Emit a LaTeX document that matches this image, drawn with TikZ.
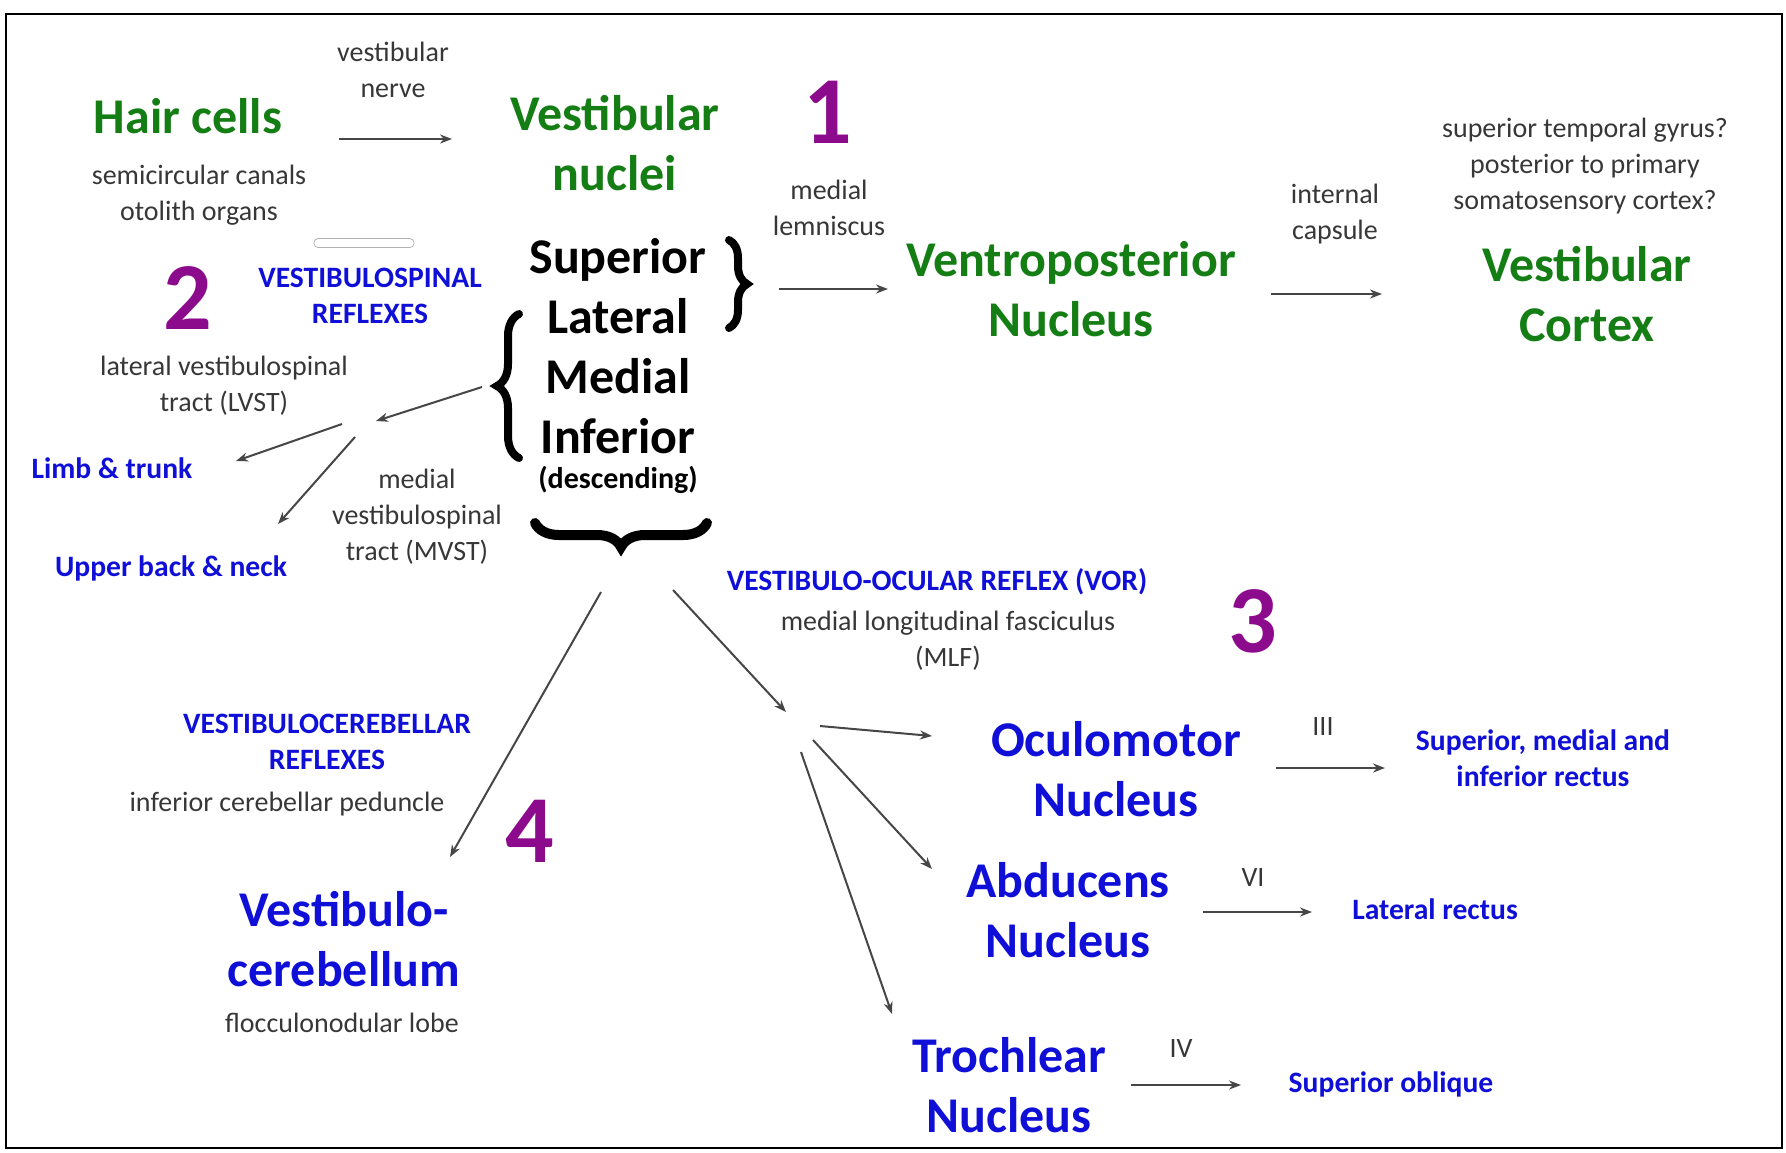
\documentclass[tikz,border=0pt]{standalone}
\usepackage{fontspec}
\setmainfont{Carlito}
\usepackage{xcolor}
\usetikzlibrary{arrows.meta,decorations.pathreplacing}
\definecolor{nucgreen}{RGB}{20,125,20}
\definecolor{reflexblue}{RGB}{15,15,215}
\definecolor{stagepurple}{RGB}{140,10,140}
\definecolor{notegray}{RGB}{55,55,55}
\definecolor{tractgray}{RGB}{70,70,70}

\begin{document}
\begin{tikzpicture}[x=0.5pt, y=-0.5pt,
  nucleus/.style={font=\fontsize{25}{30}\selectfont\bfseries, align=center, inner sep=0pt},
  green nuc/.style={nucleus, text=nucgreen},
  blue nuc/.style={nucleus, text=reflexblue},
  note/.style={font=\fontsize{14}{18}\selectfont, text=notegray, align=center, inner sep=0pt},
  reflex/.style={font=\fontsize{14.8}{18}\selectfont\bfseries, text=reflexblue, align=center, inner sep=0pt},
  stage/.style={font=\fontsize{48}{48}\selectfont\bfseries, text=stagepurple, inner sep=0pt},
  tract/.style={draw=tractgray, line width=1pt, -{Stealth[length=6pt,width=4.5pt]}},
  bracket/.style={decorate, decoration={brace, amplitude=#1}, line width=4pt, line cap=round}]
\useasboundingbox (0,0) rectangle (1786,1152);
\draw[line width=1pt] (6,14) rectangle (1782,1148);

\node[green nuc] (hair) at (188,116) {Hair cells};
\node[note] (hairsrc) at (199,195) {semicircular canals\\otolith organs};
\node[note] (nerve) at (393,70) {vestibular\\nerve};
\node[green nuc] (vn) at (615,143) {Vestibular\\nuclei};
\node[stage] (one) at (828,112) {1};
\node[note] (lemn) at (829,208) {medial\\lemniscus};
\node[green nuc] (vp) at (1071,289) {Ventroposterior\\Nucleus};
\node[note] (caps) at (1335,214) {internal\\capsule};
\node[note] (gyrus) at (1585,166) {superior temporal gyrus?\\posterior to primary\\somatosensory cortex?};
\node[green nuc] (cortex) at (1587,294) {Vestibular\\Cortex};

\node[draw=gray!60, rounded corners=2pt, minimum width=50pt, minimum height=4.5pt, inner sep=0pt] (blank) at (364,243) {};
\node[stage] (two) at (188,298) {2};
\node[reflex] (vsr) at (370,296) {VESTIBULOSPINAL\\REFLEXES};
\node[nucleus] (subs) at (618,346) {Superior\\Lateral\\Medial\\Inferior};
\node[font=\fontsize{15}{18}\selectfont\bfseries, inner sep=0pt] (desc) at (618,480) {(descending)};
\draw[bracket=9pt] (729,240) -- (729,328);
\draw[bracket=11pt] (519,458) -- (519,314);
\draw[bracket=12pt, line width=5pt] (707,523) -- (535,523);

\node[note] (lvst) at (224,386) {lateral vestibulospinal\\tract (LVST)};
\node[reflex] (limb) at (112,468) {Limb \& trunk};
\node[reflex] (neck) at (171,568) {Upper back \& neck};
\node[note] (mvst) at (417,517) {medial\\vestibulospinal\\tract (MVST)};

\node[reflex] (vor) at (937,582) {VESTIBULO-OCULAR REFLEX (VOR)};
\node[note] (mlf) at (948,641) {medial longitudinal fasciculus\\(MLF)};
\node[stage] (three) at (1253,621) {3};

\node[reflex] (vcr) at (327,742) {VESTIBULOCEREBELLAR\\REFLEXES};
\node[note] (icp) at (287,804) {inferior cerebellar peduncle};
\node[stage] (four) at (530,831) {4};
\node[blue nuc] (vcb) at (344,939) {Vestibulo-\\cerebellum};
\node[note] (floc) at (342,1023) {flocculonodular lobe};

\node[blue nuc] (ocm) at (1116,769) {Oculomotor\\Nucleus};
\node[note] (cn3) at (1323,727) {III};
\node[reflex] (rectus) at (1543,758) {Superior, medial and\\inferior rectus};
\node[blue nuc] (abd) at (1068,910) {Abducens\\Nucleus};
\node[note] (cn6) at (1253,877) {VI};
\node[reflex] (latrect) at (1435,909) {Lateral rectus};
\node[blue nuc] (troch) at (1009,1085) {Trochlear\\Nucleus};
\node[note] (cn4) at (1181,1048) {IV};
\node[reflex] (supobl) at (1391,1084) {Superior oblique};

\coordinate (nerve-a) at (339,139); \coordinate (nerve-b) at (452,139);
\coordinate (lemn-a) at (779,289); \coordinate (lemn-b) at (888,289);
\coordinate (caps-a) at (1271,294); \coordinate (caps-b) at (1382,294);
\coordinate (vs-a) at (482,387); \coordinate (vs-b) at (376,421);
\coordinate (lvst-a) at (342,424); \coordinate (lvst-b) at (236,461);
\coordinate (mvst-a) at (355,437); \coordinate (mvst-b) at (278,524);
\coordinate (icp-a) at (601,592); \coordinate (icp-b) at (450,857);
\coordinate (mlf-a) at (673,590); \coordinate (mlf-b) at (786,712);
\coordinate (ocm-a) at (820,726); \coordinate (ocm-b) at (932,736);
\coordinate (abd-a) at (813,740); \coordinate (abd-b) at (932,869);
\coordinate (troch-a) at (801,752); \coordinate (troch-b) at (892,1014);
\coordinate (cn3-a) at (1276,768); \coordinate (cn3-b) at (1385,768);
\coordinate (cn6-a) at (1203,912); \coordinate (cn6-b) at (1312,912);
\coordinate (cn4-a) at (1131,1085); \coordinate (cn4-b) at (1241,1085);
\foreach \t in {nerve,lemn,caps,vs,lvst,mvst,icp,mlf,ocm,abd,troch,cn3,cn6,cn4}
  \draw[tract] (\t-a) -- (\t-b);
\end{tikzpicture}
\end{document}
